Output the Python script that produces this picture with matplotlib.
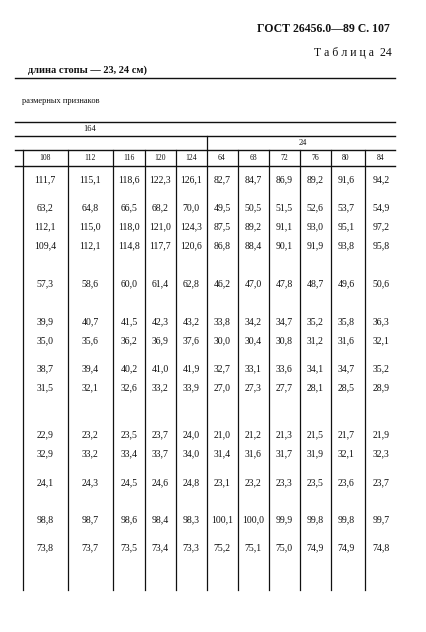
import matplotlib.pyplot as plt

# column headers and table values (rows top to bottom)
col_heads = ['108', '112', '116', '120', '124', '64', '68', '72', '76', '80', '84']
rows = [
    ['111,7', '115,1', '118,6', '122,3', '126,1', '82,7', '84,7', '86,9', '89,2', '91,6', '94,2'],
    ['63,2', '64,8', '66,5', '68,2', '70,0', '49,5', '50,5', '51,5', '52,6', '53,7', '54,9'],
    ['112,1', '115,0', '118,0', '121,0', '124,3', '87,5', '89,2', '91,1', '93,0', '95,1', '97,2'],
    ['109,4', '112,1', '114,8', '117,7', '120,6', '86,8', '88,4', '90,1', '91,9', '93,8', '95,8'],
    ['57,3', '58,6', '60,0', '61,4', '62,8', '46,2', '47,0', '47,8', '48,7', '49,6', '50,6'],
    ['39,9', '40,7', '41,5', '42,3', '43,2', '33,8', '34,2', '34,7', '35,2', '35,8', '36,3'],
    ['35,0', '35,6', '36,2', '36,9', '37,6', '30,0', '30,4', '30,8', '31,2', '31,6', '32,1'],
    ['38,7', '39,4', '40,2', '41,0', '41,9', '32,7', '33,1', '33,6', '34,1', '34,7', '35,2'],
    ['31,5', '32,1', '32,6', '33,2', '33,9', '27,0', '27,3', '27,7', '28,1', '28,5', '28,9'],
    ['22,9', '23,2', '23,5', '23,7', '24,0', '21,0', '21,2', '21,3', '21,5', '21,7', '21,9'],
    ['32,9', '33,2', '33,4', '33,7', '34,0', '31,4', '31,6', '31,7', '31,9', '32,1', '32,3'],
    ['24,1', '24,3', '24,5', '24,6', '24,8', '23,1', '23,2', '23,3', '23,5', '23,6', '23,7'],
    ['98,8', '98,7', '98,6', '98,4', '98,3', '100,1', '100,0', '99,9', '99,8', '99,8', '99,7'],
    ['73,8', '73,7', '73,5', '73,4', '73,3', '75,2', '75,1', '75,0', '74,9', '74,9', '74,8'],
]

# layout (pixels)
vlines = [23, 68, 113, 145, 176, 207, 238, 269, 300, 331, 365]
col_x = [45, 90, 129, 160, 191, 222, 253, 284, 315, 346, 381]
row_y = [180, 208, 227, 246, 284, 322, 341, 369, 388, 435, 454, 483, 520, 548]

plt.rcParams['font.family'] = ['Liberation Serif', 'DejaVu Serif']
fig = plt.figure(figsize=(4.27, 6.32), dpi=100)
ax = fig.add_axes([0, 0, 1, 1])
ax.set_xlim(0, 427)
ax.set_ylim(632, 0)
ax.axis('off')

ink = '#111111'
ax.text(390, 29, 'ГОСТ 26456.0—89 С. 107', ha='right', va='center', fontsize=8.5, fontweight='bold', color=ink)
ax.text(392, 53, 'Т а б л и ц а  24', ha='right', va='center', fontsize=8.5, color=ink)
ax.text(28, 70, 'длина стопы — 23, 24 см)', ha='left', va='center', fontsize=7.5, fontweight='bold', color=ink)
ax.text(22, 101, 'размерных признаков', ha='left', va='center', fontsize=6, color=ink)

for y, x0 in [(78, 15), (122, 15), (136, 15), (150, 15), (166, 15)]:
    ax.plot([x0, 395], [y, y], color=ink, lw=1.0)
ax.text(90, 129, '164', ha='center', va='center', fontsize=6, color=ink)
ax.text(303, 143, '24', ha='center', va='center', fontsize=6, color=ink)
ax.plot([207, 207], [136, 150], color=ink, lw=0.9)

for x in vlines:
    ax.plot([x, x], [150, 590], color=ink, lw=0.9)

for x, h in zip(col_x, col_heads):
    ax.text(x, 158, h, ha='center', va='center', fontsize=5.5, color=ink)

for y, r in zip(row_y, rows):
    for x, v in zip(col_x, r):
        ax.text(x, y, v, ha='center', va='center', fontsize=7, color=ink)

fig.savefig('out.png', dpi=100, facecolor='white')
